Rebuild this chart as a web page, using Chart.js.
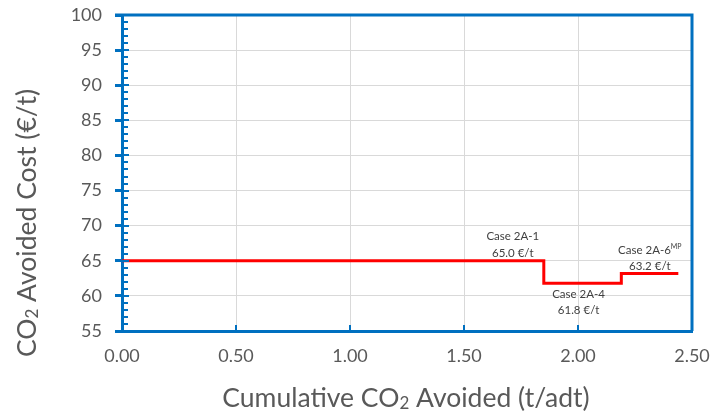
<!DOCTYPE html>
<html>
<head>
<meta charset="utf-8">
<script src="https://cdn.jsdelivr.net/npm/chart.js@4/dist/chart.umd.min.js"></script>
<style>
  html, body { margin: 0; padding: 0; background: #fff; }
  #wrap { width: 713px; height: 419px; position: relative; }
</style>
</head>
<body>
<div id="wrap"><canvas id="c" width="713" height="419"></canvas></div>
<script>
// Cost curve cases
const caseNames = ['Case 2A-1', 'Case 2A-4', 'Case 2A-6'];
const caseSuperscripts = ['', '', 'MP'];
const cumulativeStart = [0.00, 1.85, 2.19];   // t/adt
const cumulativeEnd = [1.85, 2.19, 2.44];     // t/adt
const avoidedCost = [65.0, 61.8, 63.2];       // €/t

// Axis ticks
const xTickValues = [0.00, 0.50, 1.00, 1.50, 2.00, 2.50];
const yTickValues = [55, 60, 65, 70, 75, 80, 85, 90, 95, 100];

const FONT = 'Lato, "Open Sans", sans-serif';
const BLUE = '#0070C0';
const GRID = '#D9D9D9';
const TEXT = '#595959';

// Step points: each case starts at its cumulative start, last case closed at its end
const stepPoints = caseNames.map((_, i) => ({ x: cumulativeStart[i], y: avoidedCost[i] }));
stepPoints.push({ x: cumulativeEnd[cumulativeEnd.length - 1], y: avoidedCost[avoidedCost.length - 1] });

// Label placement (pixel offsets from each step)
const labelPlacement = [
  { anchor: 'end', dx: -31, dy1: -25, dy2: -8 },
  { anchor: 'mid', dx: -4, dy1: 11, dy2: 27 },
  { anchor: 'mid', dx: 0, dy1: -24, dy2: -8 }
];

// Draws text with subscript / superscript runs
function drawRich(ctx, parts, x, y, size, align) {
  const small = s => Math.round(s * 0.64);
  const widths = parts.map(p => {
    ctx.font = (p.sub || p.sup ? small(size) : size) + 'px ' + FONT;
    return ctx.measureText(p.t).width;
  });
  const total = widths.reduce((a, b) => a + b, 0);
  let cx = align === 'center' ? x - total / 2 : x;
  ctx.textAlign = 'left';
  ctx.textBaseline = 'alphabetic';
  const base = y + size * 0.36;
  parts.forEach((p, i) => {
    ctx.font = (p.sub || p.sup ? small(size) : size) + 'px ' + FONT;
    let oy = 0;
    if (p.sub) oy = size * 0.08;
    if (p.sup) oy = -size * 0.42;
    ctx.fillText(p.t, cx, base + oy);
    cx += widths[i];
  });
}

const framePlugin = {
  id: 'frame',
  afterDraw(chart) {
    const { ctx, chartArea: a, scales: { x, y } } = chart;
    ctx.save();
    ctx.strokeStyle = BLUE;
    // top and right borders
    ctx.lineWidth = 3;
    ctx.beginPath();
    ctx.moveTo(a.left - 7, a.top);
    ctx.lineTo(a.right, a.top);
    ctx.lineTo(a.right, a.bottom);
    ctx.stroke();
    // y minor ticks (inside) and major inner ticks
    ctx.lineWidth = 2;
    for (let v = 55; v <= 100; v += 1) {
      const py = Math.round(y.getPixelForValue(v));
      const len = v % 5 === 0 ? 7 : 6;
      ctx.beginPath();
      ctx.moveTo(a.left, py);
      ctx.lineTo(a.left + len, py);
      ctx.stroke();
    }
    // x major inner ticks
    xTickValues.forEach(v => {
      const px = Math.round(x.getPixelForValue(v));
      ctx.beginPath();
      ctx.moveTo(px, a.bottom);
      ctx.lineTo(px, a.bottom - 6);
      ctx.stroke();
    });
    ctx.restore();

    // axis titles
    ctx.save();
    ctx.fillStyle = TEXT;
    drawRich(ctx, [{ t: 'Cumulative CO' }, { t: '2', sub: true }, { t: ' Avoided (t/adt)' }],
      (a.left + a.right) / 2 - 1, 397, 26.5, 'center');
    ctx.translate(26, 223);
    ctx.rotate(-Math.PI / 2);
    drawRich(ctx, [{ t: 'CO' }, { t: '2', sub: true }, { t: ' Avoided Cost (€/t)' }],
      0, 0, 26.5, 'center');
    ctx.restore();
  },
  afterDatasetsDraw(chart) {
    const { ctx, scales: { x, y } } = chart;
    ctx.save();
    ctx.fillStyle = '#404040';
    caseNames.forEach((name, i) => {
      const p = labelPlacement[i];
      const xs = x.getPixelForValue(cumulativeStart[i]);
      const xe = x.getPixelForValue(cumulativeEnd[i]);
      const cx = (p.anchor === 'end' ? xe : (xs + xe) / 2) + p.dx;
      const py = y.getPixelForValue(avoidedCost[i]);
      const parts = [{ t: name }];
      if (caseSuperscripts[i]) parts.push({ t: caseSuperscripts[i], sup: true });
      drawRich(ctx, parts, cx, py + p.dy1, 11.5, 'center');
      drawRich(ctx, [{ t: avoidedCost[i].toFixed(1) + ' €/t' }], cx, py + p.dy2, 11.5, 'center');
    });
    ctx.restore();
  }
};

new Chart(document.getElementById('c'), {
  type: 'line',
  data: {
    datasets: [{
      data: stepPoints,
      borderColor: '#FF0000',
      borderWidth: 3,
      stepped: 'before',
      pointRadius: 0,
      fill: false
    }]
  },
  options: {
    responsive: false,
    animation: false,
    layout: { padding: { top: 15, right: 21, left: 0, bottom: 0 } },
    plugins: { legend: { display: false }, tooltip: { enabled: false } },
    scales: {
      x: {
        type: 'linear',
        min: 0, max: 2.5,
        afterBuildTicks(scale) { scale.ticks = xTickValues.map(v => ({ value: v })); },
        afterFit(scale) { scale.height = 88; scale.paddingLeft = 0; scale.paddingRight = 0; },
        ticks: {
          color: TEXT,
          font: { family: FONT, size: 18 },
          padding: 14,
          callback: v => Number(v).toFixed(2)
        },
        grid: { color: GRID, lineWidth: 1, drawTicks: false },
        border: { color: BLUE, width: 3 }
      },
      y: {
        type: 'linear',
        min: 55, max: 100,
        afterBuildTicks(scale) { scale.ticks = yTickValues.map(v => ({ value: v })); },
        afterFit(scale) { scale.width = 122; scale.paddingTop = 0; scale.paddingBottom = 0; },
        ticks: {
          color: TEXT,
          font: { family: FONT, size: 18 },
          padding: 13
        },
        grid: { color: GRID, lineWidth: 1, tickLength: 7, tickColor: BLUE, tickWidth: 3 },
        border: { color: BLUE, width: 3 }
      }
    }
  },
  plugins: [framePlugin]
});
</script>
</body>
</html>
